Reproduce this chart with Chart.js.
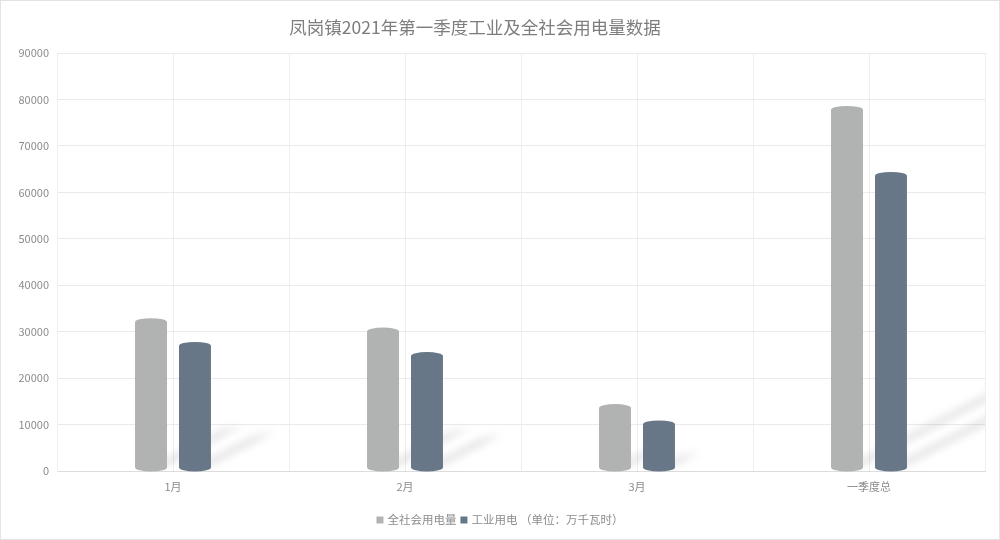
<!DOCTYPE html>
<html><head><meta charset="utf-8">
<script src="https://cdn.jsdelivr.net/npm/chart.js@4.4.1/dist/chart.umd.min.js"></script>
<style>
html,body{margin:0;padding:0;background:#fff;}
#wrap{width:1000px;height:540px;box-sizing:border-box;border:1px solid #e3e3e3;position:relative;}
canvas{display:block;}
</style></head><body>
<div id="wrap"><canvas id="c" width="998" height="538"></canvas></div>
<script>
const titleText = '凤岗镇2021年第一季度工业及全社会用电量数据';
const categories = ['1月', '2月', '3月', '一季度总'];
const seriesNames = ['全社会用电量', '工业用电'];
const unitNote = '（单位：万千瓦时）';
const totalUse = [32900, 30900, 14400, 78600];
const industrialUse = [27800, 25600, 10900, 64400];
const yTicks = [0, 10000, 20000, 30000, 40000, 50000, 60000, 70000, 80000, 90000];
const colors = ['#b1b3b2', '#687787'];
const FONT = '"Noto Sans CJK SC", "Noto Sans", sans-serif';

const titlePlugin = {
  id: 'customTitle',
  afterDraw(chart) {
    const ctx = chart.ctx;
    ctx.save();
    ctx.font = '17.5px ' + FONT;
    ctx.fillStyle = '#7d7d7d';
    ctx.textAlign = 'center';
    ctx.textBaseline = 'middle';
    ctx.fillText(titleText, 474, 26);
    ctx.restore();
  }
};

const legendPlugin = {
  id: 'customLegend',
  afterDraw(chart) {
    const ctx = chart.ctx;
    ctx.save();
    ctx.font = '11.5px ' + FONT;
    ctx.textBaseline = 'middle';
    ctx.textAlign = 'left';
    const ds = chart.data.datasets;
    const items = ds.map((d, i) => ({
      color: d.backgroundColor,
      text: i === ds.length - 1 ? d.label + ' ' + unitNote : d.label
    }));
    const box = 7, gapBT = 4, gapItem = 4;
    let total = 0;
    items.forEach((it, i) => {
      it.w = ctx.measureText(it.text).width;
      total += box + gapBT + it.w + (i < items.length - 1 ? gapItem : 0);
    });
    let x = 499 - total / 2;
    const y = 519;
    items.forEach(it => {
      ctx.fillStyle = it.color;
      ctx.fillRect(x, y - box / 2, box, box);
      x += box + gapBT;
      ctx.fillStyle = '#8c8c8c';
      ctx.fillText(it.text, x, y);
      x += it.w + gapItem;
    });
    ctx.restore();
  }
};

const cylinderPlugin = {
  id: 'cylinders',
  beforeDatasetsDraw(chart) {
    const ctx = chart.ctx;
    const area = chart.chartArea;
    ctx.save();
    ctx.beginPath();
    ctx.rect(area.left, area.top, area.right - area.left, area.bottom - area.top);
    ctx.clip();
    chart.data.datasets.forEach((ds, di) => {
      const meta = chart.getDatasetMeta(di);
      meta.data.forEach(el => {
        const p = el.getProps(['x', 'y', 'base', 'width'], true);
        const h = p.base - p.y;
        const w = p.width;
        const dx = h * 0.5, dy = h * 0.26;
        ctx.save();
        ctx.filter = 'blur(4px)';
        ctx.fillStyle = 'rgba(0,0,0,0.15)';
        ctx.beginPath();
        ctx.moveTo(p.x - w * 0.2, p.base);
        ctx.lineTo(p.x + w * 0.5, p.base - 6);
        ctx.lineTo(p.x + w * 0.5 + dx, p.base - 6 - dy);
        ctx.lineTo(p.x - w * 0.2 + dx, p.base - dy);
        ctx.closePath();
        ctx.fill();
        ctx.restore();
      });
    });
    ctx.restore();
    chart.data.datasets.forEach((ds, di) => {
      const meta = chart.getDatasetMeta(di);
      meta.data.forEach(el => {
        const p = el.getProps(['x', 'y', 'base', 'width'], true);
        const w = p.width, rx = w / 2, ry = 4;
        ctx.save();
        ctx.fillStyle = ds.backgroundColor;
        ctx.beginPath();
        ctx.moveTo(p.x - rx, p.y + ry);
        ctx.ellipse(p.x, p.y + ry, rx, ry, 0, Math.PI, 2 * Math.PI);
        ctx.lineTo(p.x + rx, p.base - ry + 1);
        ctx.ellipse(p.x, p.base - ry + 1, rx, ry, 0, 0, Math.PI);
        ctx.closePath();
        ctx.fill();
        ctx.restore();
      });
    });
  },
  beforeDatasetDraw() { return false; }
};

new Chart(document.getElementById('c'), {
  type: 'bar',
  data: {
    labels: categories,
    datasets: [
      { label: seriesNames[0], data: totalUse, backgroundColor: colors[0] },
      { label: seriesNames[1], data: industrialUse, backgroundColor: colors[1] }
    ]
  },
  options: {
    responsive: false,
    animation: false,
    devicePixelRatio: 1,
    categoryPercentage: 0.379,
    barPercentage: 0.727,
    layout: { padding: { left: 0, right: 14, top: 52, bottom: 38 } },
    plugins: {
      title: { display: false },
      tooltip: { enabled: false },
      legend: { display: false }
    },
    scales: {
      x: {
        offset: true,
        grid: { offset: true, color: '#eeeeee', drawTicks: false },
        border: { color: '#dcdcdc' },
        ticks: { color: '#8c8c8c', font: { family: FONT, size: 11 }, padding: 9 },
        afterFit(s) { s.height = 30; }
      },
      x2: {
        type: 'category',
        labels: categories,
        position: 'bottom',
        offset: true,
        grid: { offset: false, color: '#eeeeee', drawTicks: false },
        border: { display: false },
        ticks: { display: false },
        afterFit(s) { s.height = 0; }
      },
      y: {
        min: 0, max: 90000,
        afterBuildTicks(s) { s.ticks = yTicks.map(v => ({ value: v })); },
        grid: { color: '#eaeaea', drawTicks: false },
        border: { color: '#eeeeee' },
        ticks: {
          color: '#8c8c8c', font: { family: FONT, size: 11 }, padding: 8,
          callback: (v) => String(v)
        },
        afterFit(s) { s.width = 56; }
      }
    }
  },
  plugins: [titlePlugin, legendPlugin, cylinderPlugin]
});
</script>
</body></html>
